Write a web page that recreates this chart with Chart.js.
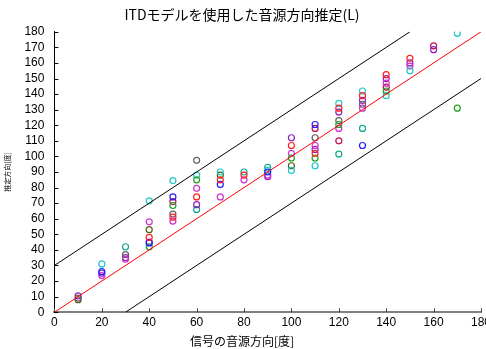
<!DOCTYPE html>
<html>
<head>
<meta charset="utf-8">
<script src="https://cdn.jsdelivr.net/npm/chart.js@4.4.1/dist/chart.umd.min.js"></script>
<style>
  html, body { margin: 0; padding: 0; background: #fff; }
  #wrap { width: 486px; height: 349px; }
</style>
</head>
<body>
<div id="wrap"><canvas id="chart" width="486" height="349"></canvas></div>
<script>
// signal direction [deg]
const directions = [10, 20, 30, 40, 50, 60, 70, 80, 90, 100, 110, 120, 130, 140, 150, 160, 170];

// estimated direction per trial (null = no point)
const redVals     = [null, null, null, 48, 61, 74, 85, 88, null, 107, 102, 131, 139, 152.5, 163, null, null];
const blueVals    = [null, 26, null, 44.5, 74, null, 82, null, 90, null, 120.5, null, 107, null, null, null, null];
const greenVals   = [null, null, null, 42, 68.5, 85, null, null, null, 99, 99, 120.5, null, 142, null, null, 131];
const cyanVals    = [null, 31, null, 71.5, 84.5, 88, 90, null, 91, 91, 94, 134, 142, 139, 155, null, 179];
const magentaVals = [null, 23.5, 34, 58, 58.5, 79.5, 74, 85, 88, 102, 107, 118, 131, 147, 158, null, null];
const grayVals    = [9, null, 37, null, 63, 97.5, null, null, null, null, 112, 123, 133.5, null, null, null, null];
const purpleVals  = [10.5, 25, 35, 45, null, 69, null, null, 87, 112, 104.5, 128.5, 136, 150, 160, 168.5, null];
const oliveVals   = [8, null, null, 53, null, null, 88, null, null, 94, null, null, null, null, null, null, null];
const crimsonVals = [null, null, null, null, 71, null, null, null, null, null, 118, 110, null, 144.5, null, 171, null];
const tealVals    = [null, null, 42, null, null, 66, null, 90, 93, null, null, 101.5, 118, null, null, null, null];

// reference lines: ideal and +/-30 deg
const idealX = [0, 180], idealY = [0, 180];
const upperX = [0, 150], upperY = [30, 180];
const lowerX = [30, 180], lowerY = [0, 150];

const xTicks = [0, 20, 40, 60, 80, 100, 120, 140, 160, 180];

function toPoints(xs, ys) {
  const pts = [];
  xs.forEach((x, i) => { if (ys[i] !== null) pts.push({ x: x, y: ys[i] }); });
  return pts;
}

function trial(vals, color) {
  return {
    data: toPoints(directions, vals),
    showLine: false,
    pointRadius: 3,
    pointHoverRadius: 3,
    pointBorderWidth: 1.2,
    pointBackgroundColor: 'rgba(255,255,255,0)',
    pointBorderColor: color,
    borderColor: color
  };
}

function refLine(xs, ys, color) {
  return {
    data: toPoints(xs, ys),
    showLine: true,
    borderColor: color,
    borderWidth: 1,
    pointRadius: 0,
    fill: false
  };
}

// inward tick marks like the original plot
const innerTicks = {
  id: 'innerTicks',
  afterDraw(chart) {
    const ctx = chart.ctx;
    const xs = chart.scales.x, ys = chart.scales.y;
    const area = chart.chartArea;
    ctx.save();
    ctx.strokeStyle = '#000';
    ctx.lineWidth = 1;
    ys.ticks.forEach(t => {
      const py = Math.round(ys.getPixelForValue(t.value)) + 0.5;
      ctx.beginPath();
      ctx.moveTo(area.left, py);
      ctx.lineTo(area.left + 4, py);
      ctx.stroke();
    });
    ctx.strokeStyle = '#444';
    xs.ticks.forEach(t => {
      const px = Math.round(xs.getPixelForValue(t.value)) + 0.5;
      ctx.beginPath();
      ctx.moveTo(px, area.bottom);
      ctx.lineTo(px, area.bottom - 4);
      ctx.stroke();
    });
    ctx.restore();
  }
};

const jpFont = '"Noto Sans CJK JP", sans-serif';
const numFont = '"Liberation Sans", Arial, sans-serif';

new Chart(document.getElementById('chart'), {
  type: 'scatter',
  data: {
    datasets: [
      refLine(upperX, upperY, '#000'),
      refLine(lowerX, lowerY, '#000'),
      refLine(idealX, idealY, '#ff0000'),
      trial(redVals, '#ff2020'),
      trial(blueVals, '#2020ff'),
      trial(greenVals, '#20a020'),
      trial(cyanVals, '#20c8c8'),
      trial(magentaVals, '#d030d0'),
      trial(grayVals, '#606060'),
      trial(purpleVals, '#9020c0'),
      trial(oliveVals, '#506010'),
      trial(crimsonVals, '#c01050'),
      trial(tealVals, '#10a890')
    ]
  },
  options: {
    responsive: false,
    animation: false,
    events: [],
    layout: { padding: { left: 3, right: 5, top: 0, bottom: 0 } },
    plugins: {
      legend: { display: false },
      tooltip: { enabled: false },
      title: {
        display: true,
        text: 'ITDモデルを使用した音源方向推定(L)',
        color: '#000',
        font: { family: jpFont, size: 14, weight: 'normal' },
        padding: { top: 6, bottom: 9 }
      },
      subtitle: {
        display: true,
        position: 'bottom',
        text: '信号の音源方向[度]',
        color: '#000',
        font: { family: jpFont, size: 12, weight: 'normal' },
        padding: { top: 2, bottom: 0 }
      }
    },
    scales: {
      x: {
        type: 'linear',
        min: 0, max: 180,
        afterBuildTicks: axis => { axis.ticks = xTicks.map(v => ({ value: v })); },
        afterFit: s => { s.paddingRight = 0; s.paddingLeft = 0; },
        grid: { display: false, drawTicks: false },
        border: { display: true, color: '#808080', width: 2 },
        ticks: {
          color: '#000',
          font: { family: numFont, size: 12 },
          padding: 3,
          maxRotation: 0,
          autoSkip: false
        }
      },
      y: {
        min: 0, max: 180,
        ticks: {
          stepSize: 10,
          autoSkip: false,
          color: '#000',
          font: { family: numFont, size: 12 },
          padding: 10
        },
        grid: { display: false, drawTicks: false },
        border: { display: true, color: '#000', width: 1 },
        title: {
          display: true,
          text: '推定方向[度]',
          color: '#000',
          font: { family: jpFont, size: 7 },
          padding: { top: 0, bottom: 3 }
        }
      }
    }
  },
  plugins: [innerTicks]
});
</script>
</body>
</html>
